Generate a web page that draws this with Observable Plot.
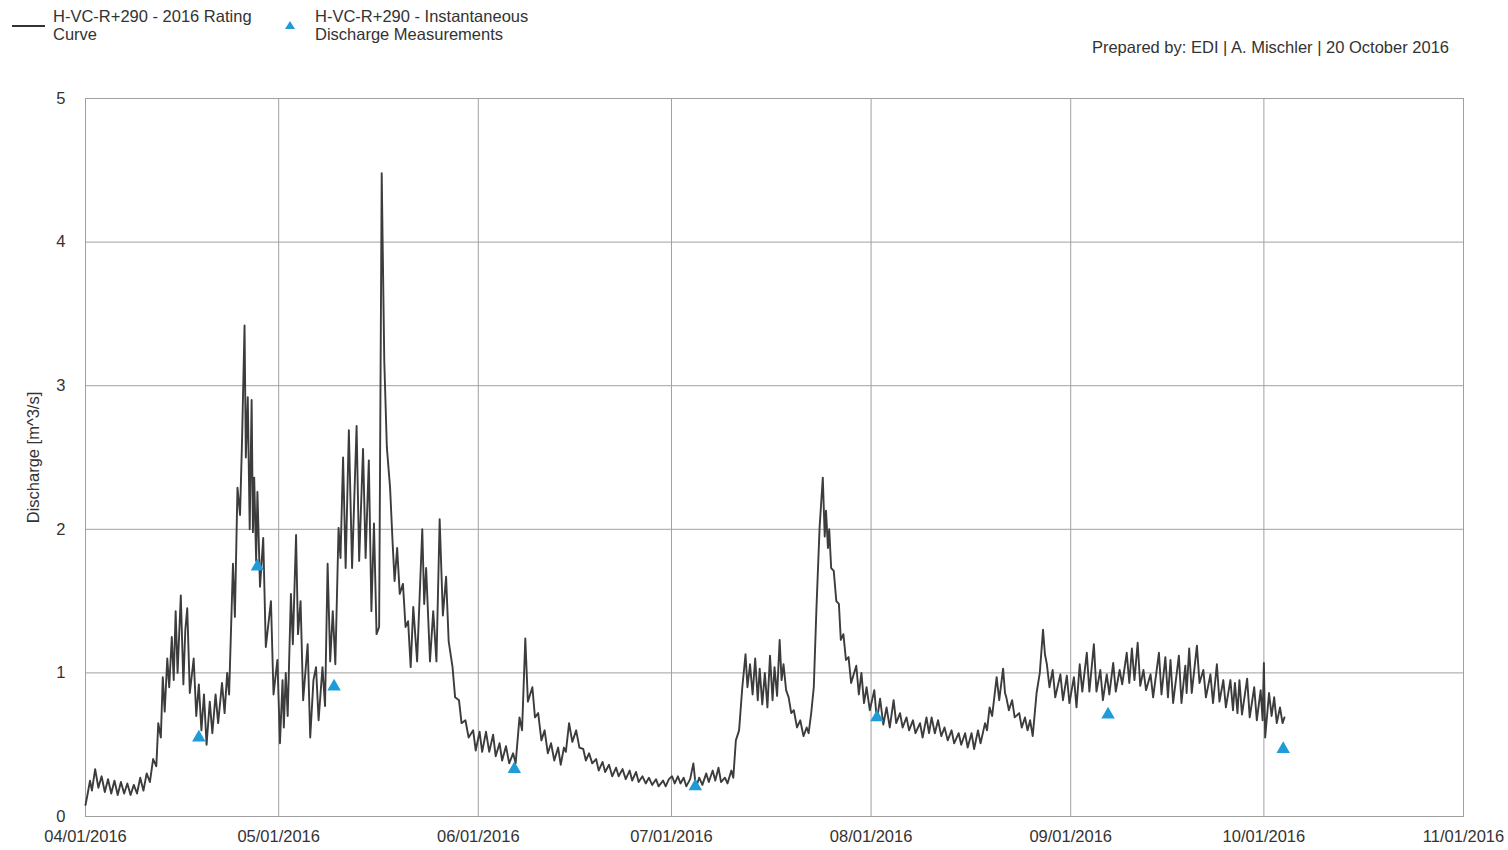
<!DOCTYPE html>
<html>
<head>
<meta charset="utf-8">
<script src="https://cdn.jsdelivr.net/npm/d3@7"></script>
<script src="https://cdn.jsdelivr.net/npm/@observablehq/plot@0.6"></script>
<style>
  html, body { margin: 0; padding: 0; background: #fff; }
  body { width: 1508px; height: 850px; position: relative; overflow: hidden;
         font-family: "Liberation Sans", Arial, sans-serif; color: #333; }
  .leg { position: absolute; font-size: 16.5px; line-height: 18px; color: #333; }
  #chart { position: absolute; left: 0; top: 80px; }
</style>
</head>
<body>
<div class="leg" style="left:12px;top:7px;">
  <svg width="34" height="20" style="position:absolute;left:0;top:9px;"><line x1="0" y1="10" x2="33" y2="10" stroke="#333" stroke-width="2"/></svg>
  <div style="position:absolute;left:41px;top:0;white-space:nowrap;">H-VC-R+290 - 2016 Rating<br>Curve</div>
</div>
<div class="leg" style="left:283px;top:7px;">
  <svg width="14" height="14" style="position:absolute;left:0;top:12px;"><path d="M7,2 L12,10 L2,10 Z" fill="#1f9bd7"/></svg>
  <div style="position:absolute;left:32px;top:0;white-space:nowrap;">H-VC-R+290 - Instantaneous<br>Discharge Measurements</div>
</div>
<div class="leg" style="right:59px;top:38px;white-space:nowrap;">Prepared by: EDI | A. Mischler | 20 October 2016</div>
<div id="chart"></div>
<script>
// Rating-curve discharge: [days since 2016-04-01, m^3/s]
const ratingCurve = [
[0.0,0.08],[0.3,0.15],[0.7,0.25],[1.0,0.18],[1.5,0.33],[2.0,0.2],[2.5,0.28],[3.0,0.17],[3.5,0.26],[4.0,0.16],
[4.5,0.25],[5.0,0.15],[5.5,0.24],[6.0,0.16],[6.5,0.23],[7.0,0.15],[7.5,0.22],[8.0,0.16],[8.5,0.27],[9.0,0.18],
[9.5,0.3],[10.0,0.24],[10.5,0.4],[11.0,0.35],[11.3,0.65],[11.7,0.55],[12.0,0.97],[12.3,0.73],[12.7,1.1],[13.0,0.9],
[13.4,1.25],[13.7,0.95],[14.0,1.43],[14.3,1.0],[14.8,1.54],[15.2,0.92],[15.5,1.3],[15.8,1.45],[16.2,0.86],[16.8,1.1],
[17.2,0.7],[17.6,0.92],[18.0,0.6],[18.4,0.85],[18.8,0.5],[19.3,0.8],[19.7,0.58],[20.2,0.85],[20.6,0.65],[21.2,0.93],
[21.6,0.72],[22.0,1.0],[22.3,0.85],[22.6,1.3],[22.9,1.76],[23.2,1.39],[23.6,2.29],[24.0,2.1],[24.3,2.6],[24.7,3.42],
[24.9,2.5],[25.2,2.92],[25.5,2.0],[25.8,2.9],[26.0,1.98],[26.2,2.36],[26.5,1.78],[26.7,2.26],[27.1,1.6],[27.6,1.94],
[28.0,1.18],[28.8,1.5],[29.2,0.85],[29.8,1.09],[30.2,0.51],[30.6,0.95],[30.8,0.62],[31.1,1.0],[31.4,0.7],[31.9,1.55],
[32.2,1.2],[32.7,1.96],[33.0,1.27],[33.4,1.5],[33.8,0.81],[34.5,1.2],[34.9,0.55],[35.4,0.95],[35.8,1.04],[36.2,0.67],
[36.8,1.04],[37.2,0.77],[37.6,1.76],[38.0,1.08],[38.4,1.43],[38.8,1.06],[39.3,2.01],[39.6,1.8],[40.0,2.5],[40.4,1.73],
[40.9,2.69],[41.4,1.73],[42.1,2.72],[42.5,1.78],[43.1,2.56],[43.5,1.8],[44.0,2.48],[44.4,1.43],[44.8,2.04],[45.2,1.27],
[45.6,1.32],[46.0,4.48],[46.4,3.17],[46.8,2.57],[47.3,2.29],[47.7,1.9],[48.0,1.64],[48.4,1.87],[48.8,1.55],[49.3,1.62],
[49.7,1.32],[50.1,1.36],[50.5,1.04],[50.9,1.46],[51.5,1.08],[52.3,2.0],[52.6,1.48],[52.9,1.73],[53.5,1.08],[54.0,1.43],
[54.5,1.08],[55.0,2.07],[55.5,1.4],[56.0,1.67],[56.4,1.22],[57.0,1.04],[57.4,0.83],[58.0,0.81],[58.4,0.65],[59.0,0.67],
[59.5,0.55],[60.2,0.6],[60.6,0.46],[61.2,0.59],[61.6,0.45],[62.2,0.59],[62.7,0.45],[63.3,0.57],[63.7,0.42],[64.3,0.51],
[64.7,0.39],[65.3,0.49],[65.8,0.37],[66.4,0.44],[66.8,0.37],[67.4,0.69],[67.8,0.6],[68.3,1.24],[68.7,0.8],[69.4,0.9],
[69.8,0.69],[70.3,0.72],[70.8,0.53],[71.3,0.6],[71.8,0.44],[72.3,0.51],[72.8,0.39],[73.4,0.48],[73.8,0.36],[74.3,0.48],
[74.6,0.45],[75.1,0.65],[75.6,0.52],[76.2,0.6],[76.7,0.48],[77.3,0.47],[77.7,0.39],[78.2,0.44],[78.7,0.37],[79.3,0.4],
[79.7,0.32],[80.3,0.38],[80.7,0.31],[81.3,0.36],[81.8,0.28],[82.4,0.34],[82.8,0.28],[83.4,0.33],[83.9,0.26],[84.5,0.32],
[84.9,0.25],[85.5,0.31],[85.9,0.24],[86.5,0.28],[87.0,0.23],[87.5,0.27],[88.0,0.22],[88.6,0.26],[89.0,0.21],[89.7,0.25],
[90.1,0.21],[90.6,0.26],[91.1,0.28],[91.5,0.23],[92.0,0.28],[92.4,0.23],[92.9,0.27],[93.3,0.21],[93.9,0.26],[94.4,0.37],
[94.8,0.2],[95.3,0.27],[95.8,0.22],[96.4,0.3],[96.8,0.24],[97.4,0.32],[97.8,0.25],[98.3,0.34],[98.7,0.24],[99.3,0.27],
[99.7,0.23],[100.3,0.32],[100.6,0.27],[101.0,0.53],[101.5,0.6],[102.0,0.9],[102.5,1.13],[102.8,0.9],[103.2,1.06],[103.6,0.85],
[104.0,1.1],[104.4,0.81],[104.7,1.03],[105.1,0.78],[105.5,1.0],[105.9,0.76],[106.3,1.12],[106.7,0.81],[107.0,1.04],[107.4,0.84],
[107.8,1.23],[108.1,0.95],[108.4,1.06],[108.8,0.88],[109.2,0.83],[109.6,0.72],[110.0,0.74],[110.5,0.62],[111.0,0.67],[111.5,0.56],
[112.0,0.62],[112.3,0.58],[112.7,0.72],[113.1,0.9],[113.5,1.43],[114.0,2.01],[114.5,2.36],[114.8,1.95],[115.0,2.13],[115.3,1.87],
[115.5,2.0],[115.8,1.73],[116.2,1.71],[116.6,1.5],[117.0,1.48],[117.3,1.23],[117.7,1.27],[118.1,1.09],[118.5,1.11],[118.9,0.93],
[119.7,1.05],[120.1,0.85],[120.5,1.0],[120.9,0.79],[121.3,0.9],[121.8,0.74],[122.5,0.88],[122.9,0.67],[123.4,0.82],[123.9,0.64],
[124.4,0.76],[124.9,0.62],[125.5,0.81],[125.9,0.65],[126.5,0.72],[126.9,0.62],[127.5,0.69],[127.9,0.6],[128.5,0.67],[128.9,0.58],
[129.6,0.65],[130.0,0.55],[130.6,0.69],[131.0,0.58],[131.4,0.69],[131.9,0.58],[132.4,0.67],[132.9,0.56],[133.4,0.62],[133.9,0.53],
[134.5,0.6],[134.9,0.51],[135.6,0.58],[136.0,0.5],[136.6,0.58],[137.0,0.48],[137.6,0.58],[138.0,0.47],[138.6,0.6],[139.0,0.51],
[139.7,0.65],[140.0,0.6],[140.4,0.76],[140.8,0.7],[141.5,0.97],[141.9,0.81],[142.5,1.03],[142.8,0.86],[143.0,0.83],[143.4,0.74],
[143.9,0.81],[144.3,0.69],[145.0,0.72],[145.4,0.62],[145.9,0.69],[146.3,0.6],[146.7,0.67],[147.1,0.56],[147.7,0.86],[148.2,1.0],
[148.7,1.3],[149.0,1.13],[149.3,1.06],[149.7,0.9],[150.2,1.02],[150.6,0.83],[151.4,0.99],[151.8,0.81],[152.4,0.98],[152.8,0.79],
[153.5,0.97],[153.9,0.76],[154.4,1.06],[154.8,0.87],[155.5,1.14],[155.9,0.87],[156.6,1.2],[157.0,0.87],[157.6,1.02],[158.0,0.81],
[158.6,0.99],[159.0,0.85],[159.6,1.07],[160.0,0.87],[160.6,1.02],[161.0,0.92],[161.7,1.14],[162.1,0.93],[162.5,1.17],[162.9,0.95],
[163.4,1.21],[163.8,0.91],[164.3,1.02],[164.7,0.88],[165.4,0.99],[165.8,0.83],[166.7,1.14],[167.1,0.85],[167.7,1.11],[168.1,0.83],
[168.5,1.09],[168.9,0.79],[169.8,1.12],[170.2,0.79],[170.8,1.05],[171.0,0.86],[171.4,1.17],[171.8,0.86],[172.6,1.19],[173.0,0.93],
[173.6,1.02],[174.0,0.83],[174.7,0.99],[175.1,0.79],[175.7,1.06],[176.1,0.8],[176.7,0.95],[177.1,0.76],[177.8,0.95],[178.2,0.74],
[178.5,0.93],[178.9,0.72],[179.2,0.95],[179.6,0.71],[180.4,0.96],[180.8,0.69],[181.5,0.9],[181.9,0.67],[182.5,0.88],[182.8,0.67],
[183.0,1.07],[183.2,0.55],[183.8,0.86],[184.2,0.7],[184.6,0.83],[185.0,0.65],[185.5,0.76],[185.9,0.65],[186.2,0.69]
];

// Instantaneous discharge measurements
const measurementDays = [17.6, 26.7, 38.6, 66.6, 94.7, 122.9, 158.8, 186.0];
const measurementQ    = [0.55, 1.74, 0.905, 0.33, 0.21, 0.69, 0.71, 0.47];

// Axis ticks
const xTickDates = ["2016-04-01","2016-05-01","2016-06-01","2016-07-01","2016-08-01","2016-09-01","2016-10-01","2016-11-01"];
const yTicks = [0, 1, 2, 3, 4, 5];

const t0 = Date.UTC(2016, 3, 1);
const toDate = d => new Date(t0 + d * 864e5);
const curve = ratingCurve.map(([d, q]) => ({date: toDate(d), q}));
const meas = measurementDays.map((d, i) => ({date: toDate(d), q: measurementQ[i]}));
const xt = xTickDates.map(s => new Date(s + "T00:00:00Z"));

const gridColor = "#a0a0a0";
const chart = Plot.plot({
  width: 1508,
  height: 770,
  marginTop: 18,
  marginBottom: 34,
  marginLeft: 85,
  marginRight: 45,
  style: {fontSize: "16.5px", fontFamily: "'Liberation Sans', Arial, sans-serif", color: "#333", background: "#fff"},
  x: {type: "utc", domain: [xt[0], xt[xt.length - 1]], ticks: xt, tickFormat: d3.utcFormat("%m/%d/%Y"), tickSize: 0, tickPadding: 14, label: null},
  y: {domain: [0, 5], ticks: yTicks, tickFormat: d3.format("d"), tickSize: 0, tickPadding: 20, label: "Discharge [m^3/s]", labelAnchor: "center", labelArrow: "none", labelOffset: 58},
  marks: [
    Plot.gridX(xt, {stroke: gridColor, strokeOpacity: 1, strokeWidth: 1}),
    Plot.gridY(yTicks, {stroke: gridColor, strokeOpacity: 1, strokeWidth: 1}),
    Plot.frame({stroke: gridColor, strokeWidth: 1}),
    Plot.line(curve, {x: "date", y: "q", stroke: "#3c3c3c", strokeWidth: 1.9, curve: "linear"}),
    Plot.dot(meas, {x: "date", y: "q", symbol: "triangle", r: 5, fill: "#1f9bd7", stroke: "none"})
  ]
});
document.getElementById("chart").appendChild(chart);
</script>
</body>
</html>
